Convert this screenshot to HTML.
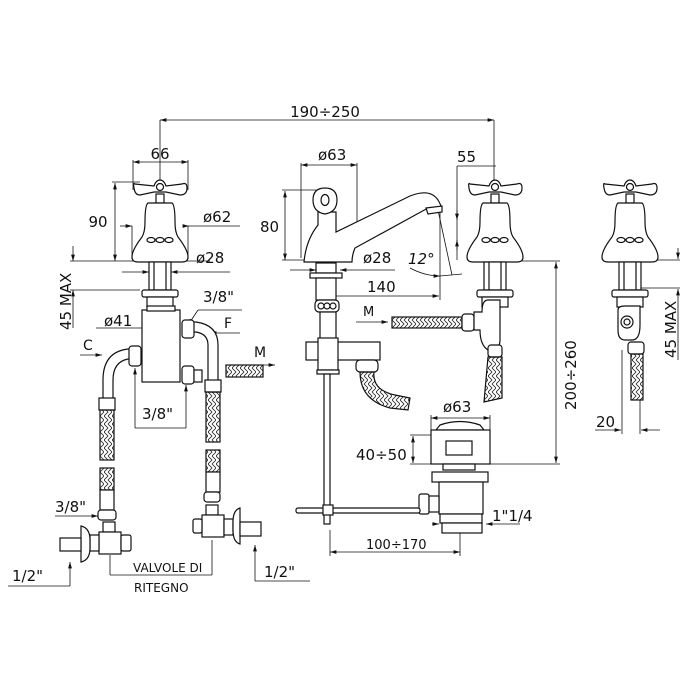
<!DOCTYPE html>
<html><head><meta charset="utf-8"><style>
html,body{margin:0;padding:0;background:#fff;}
svg{display:block;}
text{font-family:"DejaVu Sans","Liberation Sans",sans-serif;fill:#111;}
</style></head><body>
<svg width="700" height="700" viewBox="0 0 700 700" xmlns="http://www.w3.org/2000/svg">
<defs>
<pattern id="hz" width="8" height="8" patternUnits="userSpaceOnUse">
<path d="M0,0 L4,4 L0,8 M4,0 L8,4 L4,8" stroke="#222" stroke-width="0.8" fill="none"/>
</pattern>
<marker id="a" viewBox="0 0 10 6" refX="10" refY="3" markerWidth="8" markerHeight="5" orient="auto-start-reverse"><path d="M0,0 L10,3 L0,6 Z" fill="#111"/></marker>
<g id="tap" fill="#fff" stroke="#111" stroke-width="1.2">
<path d="M-25,2 Q-27,0 -26,6 Q-25,13 -20,13 L-6,10 L6,10 L20,13 Q27,13 27,6 Q27,0 22,2 L6,4 Q4,-2 0,-2 Q-4,-2 -6,4 Z"/>
<circle cx="0" cy="5" r="3.5"/>
<rect x="-4" y="12" width="8" height="9"/>
<path d="M-12,21 Q-15,23 -15,40 Q-15,50 -18,55 Q-28,68 -28,75 Q-28,80 -22,80 L22,80 Q28,80 28,75 Q28,68 18,55 Q15,50 15,40 Q15,23 12,21 Z"/>
<ellipse cx="-9" cy="58" rx="4" ry="2.5"/><ellipse cx="0" cy="58" rx="4" ry="2.5"/><ellipse cx="9" cy="58" rx="4" ry="2.5"/>
<rect x="-11" y="80" width="22" height="28"/>
<line x1="-6" y1="80" x2="-6" y2="108"/><line x1="6" y1="80" x2="6" y2="108"/>
<rect x="-18" y="108" width="36" height="7" rx="2"/>
<rect x="-13" y="115" width="26" height="10"/>
</g>
</defs>

<g stroke="#111" stroke-width="0.8" fill="none">
<line x1="160" y1="120" x2="494" y2="120" marker-start="url(#a)" marker-end="url(#a)"/>
<line x1="160" y1="120" x2="160" y2="182"/><line x1="494" y1="120" x2="494" y2="180"/>
<line x1="133" y1="162" x2="188" y2="162" marker-start="url(#a)" marker-end="url(#a)"/>
<line x1="133" y1="160" x2="133" y2="190"/><line x1="188" y1="160" x2="188" y2="190"/>
<line x1="115" y1="183" x2="115" y2="261" marker-start="url(#a)" marker-end="url(#a)"/>
<line x1="112" y1="182" x2="140" y2="182"/>
<line x1="70" y1="261" x2="210" y2="261"/>
<line x1="120" y1="226" x2="132" y2="226" marker-end="url(#a)"/>
<line x1="188" y1="226" x2="240" y2="226"/><line x1="188" y1="226" x2="189" y2="226" marker-end="url(#a)"/>
<line x1="132" y1="226" x2="132" y2="258"/><line x1="188" y1="226" x2="188" y2="258"/>
<line x1="122" y1="272" x2="149" y2="272" marker-end="url(#a)"/>
<line x1="230" y1="272" x2="171" y2="272" marker-end="url(#a)"/>
<line x1="73" y1="246" x2="73" y2="261" marker-end="url(#a)"/>
<line x1="73" y1="305" x2="73" y2="290" marker-end="url(#a)"/>
<line x1="73" y1="305" x2="73" y2="328"/>
<line x1="70" y1="290" x2="140" y2="290"/>
<line x1="96" y1="328" x2="180" y2="328"/>
<line x1="145" y1="328" x2="143" y2="328" marker-end="url(#a)"/>
<line x1="175" y1="328" x2="179" y2="328" marker-end="url(#a)"/>
<line x1="242" y1="310" x2="198" y2="310"/><line x1="198" y1="310" x2="188" y2="325" marker-end="url(#a)"/>
<line x1="240" y1="333" x2="210" y2="333" marker-end="url(#a)"/>
<line x1="80" y1="355" x2="102" y2="355" marker-end="url(#a)"/>
<line x1="248" y1="365" x2="275" y2="365" marker-end="url(#a)"/>
<!-- 3/8 lower middle bracket -->
<line x1="135" y1="428" x2="135" y2="368" marker-end="url(#a)"/>
<line x1="135" y1="428" x2="186" y2="428"/>
<line x1="186" y1="428" x2="186" y2="385" marker-end="url(#a)"/>
<line x1="55" y1="516" x2="98" y2="516" marker-end="url(#a)"/>
<line x1="8" y1="586" x2="70" y2="586"/><line x1="70" y1="586" x2="70" y2="562" marker-end="url(#a)"/>
<line x1="110" y1="555" x2="110" y2="575"/><line x1="110" y1="575" x2="212" y2="575"/><line x1="212" y1="575" x2="212" y2="540"/>
<line x1="255" y1="581" x2="310" y2="581"/><line x1="255" y1="581" x2="255" y2="545" marker-end="url(#a)"/>
<line x1="301" y1="165" x2="357" y2="165" marker-start="url(#a)" marker-end="url(#a)"/>
<line x1="301" y1="163" x2="301" y2="258"/><line x1="357" y1="163" x2="357" y2="222"/>
<line x1="285" y1="191" x2="285" y2="260" marker-start="url(#a)" marker-end="url(#a)"/>
<line x1="282" y1="190" x2="318" y2="190"/><line x1="282" y1="260" x2="305" y2="260"/>
<line x1="290" y1="270" x2="316" y2="270" marker-end="url(#a)"/>
<line x1="395" y1="270" x2="340" y2="270" marker-end="url(#a)"/>
<path d="M410,268 Q425,276 440,276" marker-end="url(#a)"/>
<line x1="440" y1="276" x2="462" y2="274"/>
<line x1="438" y1="210" x2="452" y2="275"/>
<line x1="330" y1="296" x2="439" y2="296" marker-start="url(#a)" marker-end="url(#a)"/>
<line x1="440" y1="212" x2="440" y2="300"/>
<line x1="356" y1="322" x2="388" y2="322" marker-end="url(#a)"/>
<line x1="457" y1="166" x2="496" y2="166"/><line x1="457" y1="166" x2="457" y2="260"/>
<line x1="457" y1="210" x2="457" y2="220" marker-end="url(#a)"/>
<line x1="457" y1="250" x2="457" y2="240" marker-end="url(#a)"/>
<line x1="556" y1="262" x2="556" y2="463" marker-start="url(#a)" marker-end="url(#a)"/>
<line x1="515" y1="261" x2="560" y2="261"/><line x1="490" y1="464" x2="560" y2="464"/>
<line x1="431" y1="418" x2="490" y2="418" marker-start="url(#a)" marker-end="url(#a)"/>
<line x1="431" y1="415" x2="431" y2="430"/><line x1="490" y1="415" x2="490" y2="430"/>
<line x1="413" y1="436" x2="413" y2="463" marker-start="url(#a)" marker-end="url(#a)"/>
<line x1="410" y1="435" x2="435" y2="435"/><line x1="410" y1="464" x2="435" y2="464"/>
<line x1="432" y1="524" x2="439" y2="524" marker-end="url(#a)"/>
<line x1="520" y1="524" x2="486" y2="524" marker-end="url(#a)"/>
<line x1="330" y1="552" x2="460" y2="552" marker-start="url(#a)" marker-end="url(#a)"/>
<line x1="330" y1="530" x2="330" y2="556"/><line x1="460" y1="530" x2="460" y2="556"/>
<line x1="620" y1="260" x2="680" y2="260"/><line x1="630" y1="288" x2="680" y2="288"/>
<line x1="678" y1="248" x2="678" y2="259" marker-end="url(#a)"/>
<line x1="678" y1="300" x2="678" y2="289" marker-end="url(#a)"/>
<line x1="678" y1="300" x2="678" y2="360"/>
<line x1="622" y1="350" x2="622" y2="434"/><line x1="640" y1="400" x2="640" y2="434"/>
<line x1="595" y1="430" x2="621" y2="430" marker-end="url(#a)"/>
<line x1="660" y1="430" x2="641" y2="430" marker-end="url(#a)"/>
</g>

<use href="#tap" x="160" y="182"/>
<use href="#tap" x="495" y="182"/>
<use href="#tap" x="630" y="182"/>

<g fill="#fff" stroke="#111" stroke-width="1.2">
<rect x="142" y="310" width="38" height="72"/>
<rect x="147" y="306" width="28" height="5"/>
<path d="M103,400 L103,380 Q103,352 128,349 L132,349 L132,359 L128,359 Q113,362 113,380 L113,400 Z"/>
<path d="M218,392 L218,345 Q218,325 196,322 L190,322 L190,332 L196,332 Q208,334 208,345 L208,392 Z"/>
<rect x="129" y="346" width="12" height="20" rx="3"/>
<rect x="182" y="320" width="12" height="18" rx="3"/>
<rect x="182" y="366" width="12" height="18" rx="3"/>
<rect x="194" y="370" width="8" height="12"/>
<rect x="99" y="398" width="16" height="12"/>
<rect x="100" y="410" width="14" height="50" fill="url(#hz)"/>
<rect x="100" y="468" width="14" height="22" fill="url(#hz)"/>
<rect x="100" y="490" width="14" height="20"/>
<rect x="98" y="510" width="18" height="10" rx="3"/>
<rect x="205" y="380" width="16" height="12"/>
<rect x="206" y="392" width="14" height="50" fill="url(#hz)"/>
<rect x="206" y="450" width="14" height="22" fill="url(#hz)"/>
<rect x="206" y="472" width="14" height="20"/>
<rect x="204" y="492" width="16" height="10" rx="3"/>
<rect x="226" y="365" width="37" height="12" fill="url(#hz)"/>
<rect x="103" y="522" width="12" height="10"/>
<rect x="99" y="532" width="22" height="22"/>
<rect x="121" y="535" width="10" height="16" rx="2"/>
<rect x="90" y="535" width="9" height="16"/>
<path d="M81,526 Q90,528 90,540 L90,548 Q90,560 81,562 Z"/>
<rect x="60" y="538" width="21" height="13"/>
<rect x="206" y="505" width="12" height="10"/>
<rect x="202" y="515" width="22" height="22"/>
<rect x="193" y="519" width="9" height="14" rx="2"/>
<rect x="224" y="519" width="9" height="16"/>
<path d="M240,508 Q233,510 233,522 L233,530 Q233,542 240,544 Z"/>
<rect x="240" y="522" width="21" height="14"/>
<path d="M304,262 Q306,240 318,225 L318,212 L336,212 L336,232 L410,196 Q430,188 438,200 Q444,210 440,212 L428,208 L355,248 Q352,255 352,262 Z"/>
<path d="M426,208 L442,206 L442,212 L428,214 Z"/>
<path d="M313,200 Q313,188 325,188 Q337,188 337,200 Q337,212 325,214 Q313,212 313,200 Z"/>
<ellipse cx="325" cy="200" rx="4" ry="5.5"/>
<rect x="316" y="263" width="20" height="10"/>
<rect x="310" y="273" width="32" height="5"/>
<rect x="316" y="278" width="20" height="22"/>
<rect x="315" y="300" width="24" height="12" rx="4"/>
<circle cx="321" cy="306" r="3"/><circle cx="327" cy="306" r="3"/><circle cx="333" cy="306" r="3"/>
<rect x="320" y="312" width="16" height="30"/>
<rect x="306" y="342" width="74" height="18"/>
<rect x="318" y="338" width="20" height="32"/>
<rect x="317" y="370" width="22" height="4"/>
<rect x="324" y="374" width="6" height="150"/>
<rect x="356" y="360" width="22" height="12" rx="4"/>
<path d="M360,372 L374,372 Q372,390 395,395 L410,398 L408,410 L390,408 Q360,400 360,372 Z" fill="url(#hz)"/>
<rect x="392" y="317" width="70" height="11" fill="url(#hz)"/>
<rect x="462" y="314" width="12" height="17" rx="3"/>
<path d="M474,312 L482,312 Q482,300 488,300 L500,300 L500,340 Q500,350 490,350 L488,350 Q480,345 480,330 L474,330 Z"/>
<rect x="488" y="345" width="14" height="12" rx="3"/>
<path d="M488,357 L502,357 L502,398 L484,402 Z" fill="url(#hz)"/>
<path d="M618,310 Q618,306 625,306 L640,306 L640,325 Q640,340 632,340 L625,340 Q618,340 618,330 Z"/>
<circle cx="627" cy="322" r="6"/><circle cx="627" cy="322" r="3"/>
<rect x="628" y="342" width="16" height="12" rx="3"/>
<rect x="631" y="354" width="12" height="46" fill="url(#hz)"/>
<path d="M440,425 Q460,418 480,425 L484,430 L436,430 Z"/>
<rect x="431" y="430" width="59" height="34"/>
<rect x="446" y="441" width="26" height="14"/>
<rect x="443" y="464" width="32" height="6"/>
<rect x="432" y="472" width="56" height="10"/>
<rect x="439" y="482" width="44" height="32"/>
<rect x="440" y="514" width="42" height="9"/>
<rect x="442" y="523" width="40" height="10"/>
<rect x="419" y="494" width="10" height="20" rx="2"/>
<rect x="429" y="496" width="10" height="16"/>
<rect x="296" y="508" width="124" height="5" rx="2"/>
<rect x="323" y="505" width="10" height="10"/>
</g>

<g font-size="15">
<text x="325" y="117" text-anchor="middle">190÷250</text>
<text x="160" y="159" text-anchor="middle">66</text>
<text x="98" y="227" text-anchor="middle">90</text>
<text x="203" y="222">ø62</text>
<text x="196" y="263">ø28</text>
<text x="104" y="326">ø41</text>
<text x="203" y="302">3/8"</text>
<text x="224" y="328" font-size="14">F</text>
<text x="83" y="350" font-size="14">C</text>
<text x="254" y="357" font-size="14">M</text>
<text x="142" y="419">3/8"</text>
<text x="55" y="512">3/8"</text>
<text x="12" y="581">1/2"</text>
<text x="264" y="577">1/2"</text>
<text x="318" y="160">ø63</text>
<text x="260" y="232">80</text>
<text x="363" y="263">ø28</text>
<text x="408" y="264" font-style="italic">12°</text>
<text x="367" y="292">140</text>
<text x="457" y="162">55</text>
<text x="363" y="316" font-size="13">M</text>
<text x="443" y="412">ø63</text>
<text x="356" y="460">40÷50</text>
<text x="492" y="521">1"1/4</text>
<text x="366" y="549" font-size="13">100÷170</text>
<text x="133" y="572" font-size="12">VALVOLE DI</text>
<text x="134" y="592" font-size="12">RITEGNO</text>
<text x="596" y="427">20</text>
<text transform="translate(71,330) rotate(-90)">45 MAX</text>
<text transform="translate(576,410) rotate(-90)">200÷260</text>
<text transform="translate(676,358) rotate(-90)">45 MAX</text>
</g>
</svg>
</body></html>
